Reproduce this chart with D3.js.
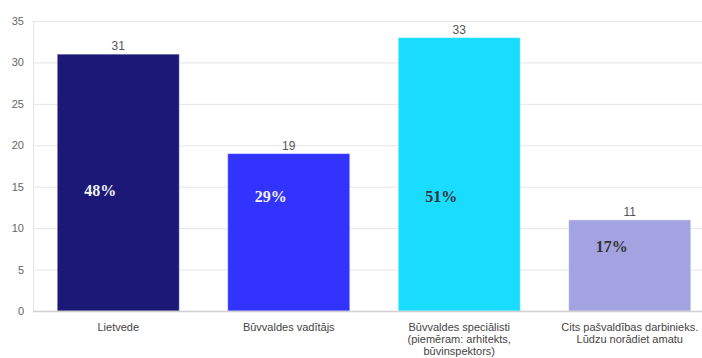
<!DOCTYPE html>
<html>
<head>
<meta charset="utf-8">
<script src="https://cdn.jsdelivr.net/npm/d3@7"></script>
<style>
  body { margin: 0; background: #fff; }
  text { font-family: "Liberation Sans", Arial, sans-serif; }
</style>
</head>
<body>
<div id="chart"></div>
<script>
// data
const categories = [
  ["Lietvede"],
  ["Būvvaldes vadītājs"],
  ["Būvvaldes speciālisti", "(piemēram: arhitekts,", "būvinspektors)"],
  ["Cits pašvaldības darbinieks.", "Lūdzu norādiet amatu"]
];
const values = [31, 19, 33, 11];
const percents = ["48%", "29%", "51%", "17%"];
const percentAt = [14.6, 13.8, 13.8, 7.8];   // where the % annotations sit, in axis units
const yTicks = [0, 5, 10, 15, 20, 25, 30, 35];

const barColors = ["#1b1878", "#3333ff", "#1adcff", "#a3a3e2"];
const pctColors = ["#f2f2f2", "#f2f2f2", "#333333", "#333333"];

const W = 702, H = 358;
const plotLeft = 33, plotTop = 21, plotBottom = 311;

const svg = d3.select("#chart").append("svg")
    .attr("width", W)
    .attr("height", H);

const x = d3.scaleBand()
    .domain(d3.range(values.length))
    .range([plotLeft, plotLeft + 682])
    .paddingInner(0.284)
    .paddingOuter(0.142);

const y = d3.scaleLinear()
    .domain([0, 35])
    .range([plotBottom, plotTop]);

// gridlines
svg.append("g")
  .selectAll("line")
  .data(yTicks.filter(d => d > 0))
  .join("line")
    .attr("x1", plotLeft)
    .attr("x2", W)
    .attr("y1", d => y(d) + 0.5)
    .attr("y2", d => y(d) + 0.5)
    .attr("stroke", "#e6e6e6");

// y axis line
svg.append("line")
    .attr("x1", plotLeft + 0.5).attr("x2", plotLeft + 0.5)
    .attr("y1", plotTop).attr("y2", plotBottom)
    .attr("stroke", "#e6e6e6");

// y tick labels
svg.append("g")
    .attr("transform", "translate(" + (plotLeft - 9) + ",0)")
    .call(d3.axisLeft(y).tickValues(yTicks).tickSize(0).tickPadding(0))
    .call(g => g.select(".domain").remove())
    .call(g => g.selectAll("text")
        .attr("fill", "#666")
        .style("font-size", "11px")
        .style("font-family", "'Liberation Sans', Arial, sans-serif"));

// bars
svg.append("g")
  .selectAll("rect")
  .data(values)
  .join("rect")
    .attr("x", (d, i) => x(i))
    .attr("y", d => y(d))
    .attr("width", x.bandwidth())
    .attr("height", d => plotBottom - y(d))
    .attr("fill", (d, i) => barColors[i])
    .attr("stroke", "#ffffff")
    .attr("stroke-opacity", 0.45)
    .attr("stroke-width", 1);

// x axis baseline
svg.append("line")
    .attr("x1", plotLeft).attr("x2", W)
    .attr("y1", plotBottom + 0.5).attr("y2", plotBottom + 0.5)
    .attr("stroke", "#d0d0d0")
    .attr("stroke-width", 1.5);

// value labels above bars
svg.append("g")
  .selectAll("text")
  .data(values)
  .join("text")
    .attr("x", (d, i) => x(i) + x.bandwidth() / 2)
    .attr("y", d => y(d) - 4)
    .attr("text-anchor", "middle")
    .attr("fill", "#555")
    .style("font-size", "12px")
    .text(d => d);

// percent annotations
svg.append("g")
  .selectAll("text")
  .data(percents)
  .join("text")
    .attr("x", (d, i) => x(i) + x.bandwidth() / 2 - 18)
    .attr("y", (d, i) => y(percentAt[i]))
    .attr("dy", "0.35em")
    .attr("text-anchor", "middle")
    .attr("fill", (d, i) => pctColors[i])
    .style("font-family", "'Liberation Serif', 'Times New Roman', serif")
    .style("font-weight", "bold")
    .style("font-size", "16px")
    .text(d => d);

// category labels
const cat = svg.append("g")
  .selectAll("text")
  .data(categories)
  .join("text")
    .attr("x", (d, i) => x(i) + x.bandwidth() / 2)
    .attr("y", plotBottom + 20)
    .attr("text-anchor", "middle")
    .attr("fill", "#444")
    .style("font-size", "11px");

cat.selectAll("tspan")
  .data(d => d)
  .join("tspan")
    .attr("x", function() { return d3.select(this.parentNode).attr("x"); })
    .attr("dy", (d, j) => j === 0 ? 0 : 12)
    .text(d => d);
</script>
</body>
</html>
